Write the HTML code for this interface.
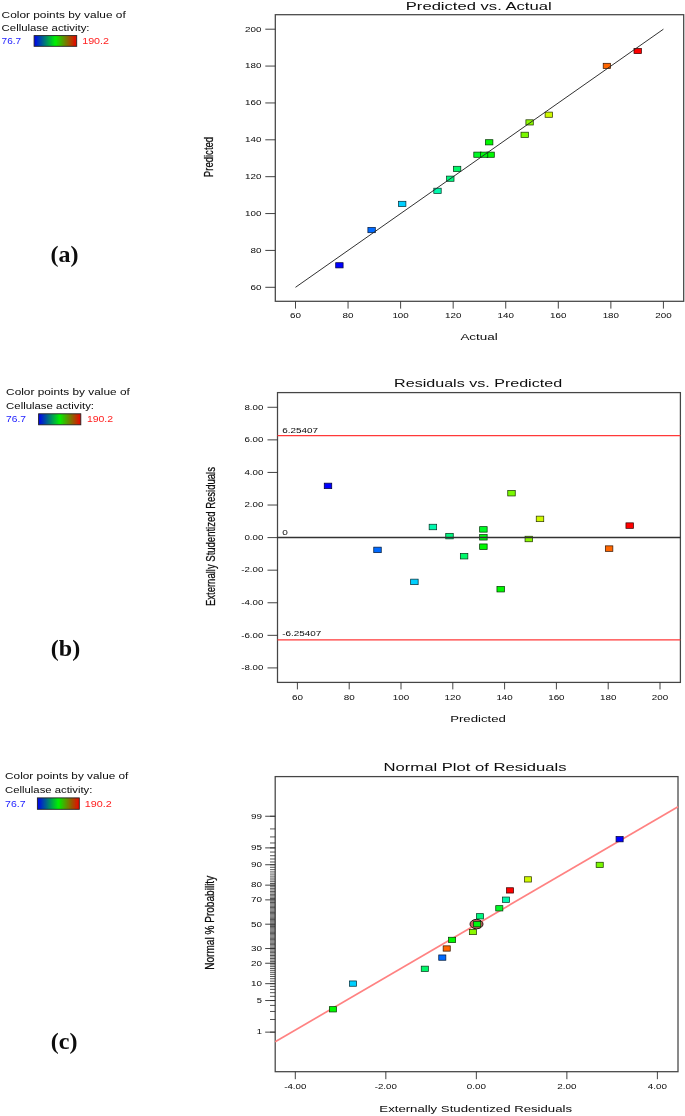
<!DOCTYPE html>
<html><head><meta charset="utf-8"><title>Diagnostic plots</title>
<style>
html,body{margin:0;padding:0;background:#fff;}
body{width:685px;height:1116px;overflow:hidden;font-family:"Liberation Sans",sans-serif;}
svg{display:block;}
</style></head><body>
<svg width="685" height="1116" viewBox="0 0 685 1116">
<rect x="0" y="0" width="685" height="1116" fill="#ffffff"/>
<g filter="url(#soft)">
<defs><filter id="soft" x="0" y="0" width="685" height="1116" filterUnits="userSpaceOnUse"><feGaussianBlur stdDeviation="0.35"/></filter><linearGradient id="lg" x1="0" x2="1" y1="0" y2="0"><stop offset="0" stop-color="#0000f0"/><stop offset="0.5" stop-color="#00f000"/><stop offset="1" stop-color="#f00000"/></linearGradient></defs>
<rect x="275.3" y="14.7" width="408.40000000000003" height="286.6" fill="#fff" stroke="#444" stroke-width="1.25"/>
<line x1="265.3" x2="275.3" y1="287.30" y2="287.30" stroke="#303030" stroke-width="0.9"/>
<text x="261.50" y="289.60" font-family="Liberation Sans" font-size="7.3" font-weight="normal" text-anchor="end" fill="#0a0a0a" textLength="11.00" lengthAdjust="spacingAndGlyphs">60</text>
<line x1="295.50" x2="295.50" y1="301.3" y2="308.6" stroke="#303030" stroke-width="0.9"/>
<text x="295.50" y="318.10" font-family="Liberation Sans" font-size="7.3" font-weight="normal" text-anchor="middle" fill="#0a0a0a" textLength="11.00" lengthAdjust="spacingAndGlyphs">60</text>
<line x1="265.3" x2="275.3" y1="250.43" y2="250.43" stroke="#303030" stroke-width="0.9"/>
<text x="261.50" y="252.73" font-family="Liberation Sans" font-size="7.3" font-weight="normal" text-anchor="end" fill="#0a0a0a" textLength="11.00" lengthAdjust="spacingAndGlyphs">80</text>
<line x1="348.06" x2="348.06" y1="301.3" y2="308.6" stroke="#303030" stroke-width="0.9"/>
<text x="348.06" y="318.10" font-family="Liberation Sans" font-size="7.3" font-weight="normal" text-anchor="middle" fill="#0a0a0a" textLength="11.00" lengthAdjust="spacingAndGlyphs">80</text>
<line x1="265.3" x2="275.3" y1="213.56" y2="213.56" stroke="#303030" stroke-width="0.9"/>
<text x="261.50" y="215.86" font-family="Liberation Sans" font-size="7.3" font-weight="normal" text-anchor="end" fill="#0a0a0a" textLength="16.40" lengthAdjust="spacingAndGlyphs">100</text>
<line x1="400.62" x2="400.62" y1="301.3" y2="308.6" stroke="#303030" stroke-width="0.9"/>
<text x="400.62" y="318.10" font-family="Liberation Sans" font-size="7.3" font-weight="normal" text-anchor="middle" fill="#0a0a0a" textLength="16.40" lengthAdjust="spacingAndGlyphs">100</text>
<line x1="265.3" x2="275.3" y1="176.68" y2="176.68" stroke="#303030" stroke-width="0.9"/>
<text x="261.50" y="178.98" font-family="Liberation Sans" font-size="7.3" font-weight="normal" text-anchor="end" fill="#0a0a0a" textLength="16.40" lengthAdjust="spacingAndGlyphs">120</text>
<line x1="453.18" x2="453.18" y1="301.3" y2="308.6" stroke="#303030" stroke-width="0.9"/>
<text x="453.18" y="318.10" font-family="Liberation Sans" font-size="7.3" font-weight="normal" text-anchor="middle" fill="#0a0a0a" textLength="16.40" lengthAdjust="spacingAndGlyphs">120</text>
<line x1="265.3" x2="275.3" y1="139.81" y2="139.81" stroke="#303030" stroke-width="0.9"/>
<text x="261.50" y="142.11" font-family="Liberation Sans" font-size="7.3" font-weight="normal" text-anchor="end" fill="#0a0a0a" textLength="16.40" lengthAdjust="spacingAndGlyphs">140</text>
<line x1="505.74" x2="505.74" y1="301.3" y2="308.6" stroke="#303030" stroke-width="0.9"/>
<text x="505.74" y="318.10" font-family="Liberation Sans" font-size="7.3" font-weight="normal" text-anchor="middle" fill="#0a0a0a" textLength="16.40" lengthAdjust="spacingAndGlyphs">140</text>
<line x1="265.3" x2="275.3" y1="102.94" y2="102.94" stroke="#303030" stroke-width="0.9"/>
<text x="261.50" y="105.24" font-family="Liberation Sans" font-size="7.3" font-weight="normal" text-anchor="end" fill="#0a0a0a" textLength="16.40" lengthAdjust="spacingAndGlyphs">160</text>
<line x1="558.30" x2="558.30" y1="301.3" y2="308.6" stroke="#303030" stroke-width="0.9"/>
<text x="558.30" y="318.10" font-family="Liberation Sans" font-size="7.3" font-weight="normal" text-anchor="middle" fill="#0a0a0a" textLength="16.40" lengthAdjust="spacingAndGlyphs">160</text>
<line x1="265.3" x2="275.3" y1="66.07" y2="66.07" stroke="#303030" stroke-width="0.9"/>
<text x="261.50" y="68.37" font-family="Liberation Sans" font-size="7.3" font-weight="normal" text-anchor="end" fill="#0a0a0a" textLength="16.40" lengthAdjust="spacingAndGlyphs">180</text>
<line x1="610.86" x2="610.86" y1="301.3" y2="308.6" stroke="#303030" stroke-width="0.9"/>
<text x="610.86" y="318.10" font-family="Liberation Sans" font-size="7.3" font-weight="normal" text-anchor="middle" fill="#0a0a0a" textLength="16.40" lengthAdjust="spacingAndGlyphs">180</text>
<line x1="265.3" x2="275.3" y1="29.20" y2="29.20" stroke="#303030" stroke-width="0.9"/>
<text x="261.50" y="31.50" font-family="Liberation Sans" font-size="7.3" font-weight="normal" text-anchor="end" fill="#0a0a0a" textLength="16.40" lengthAdjust="spacingAndGlyphs">200</text>
<line x1="663.42" x2="663.42" y1="301.3" y2="308.6" stroke="#303030" stroke-width="0.9"/>
<text x="663.42" y="318.10" font-family="Liberation Sans" font-size="7.3" font-weight="normal" text-anchor="middle" fill="#0a0a0a" textLength="16.40" lengthAdjust="spacingAndGlyphs">200</text>
<text x="478.70" y="9.70" font-family="Liberation Sans" font-size="11.5" font-weight="normal" text-anchor="middle" fill="#0a0a0a" textLength="145.80" lengthAdjust="spacingAndGlyphs">Predicted vs. Actual</text>
<text x="479.10" y="339.70" font-family="Liberation Sans" font-size="9.3" font-weight="normal" text-anchor="middle" fill="#0a0a0a" textLength="37.40" lengthAdjust="spacingAndGlyphs">Actual</text>
<g transform="translate(213.20,157.00) scale(1.45,1) rotate(-90)"><text x="0" y="0" font-family="Liberation Sans" font-size="9.4" text-anchor="middle" fill="#0a0a0a" stroke="#0a0a0a" stroke-width="0.18" textLength="40.30" lengthAdjust="spacingAndGlyphs">Predicted</text></g>
<rect x="335.70" y="262.70" width="7.4" height="5.2" fill="#0000ff" stroke="#000038" stroke-width="0.72"/>
<rect x="367.90" y="227.50" width="7.4" height="5.2" fill="#006bff" stroke="#001738" stroke-width="0.72"/>
<rect x="398.50" y="201.30" width="7.4" height="5.2" fill="#00d0ff" stroke="#002d38" stroke-width="0.72"/>
<rect x="433.80" y="188.20" width="7.4" height="5.2" fill="#00f8ae" stroke="#003626" stroke-width="0.72"/>
<rect x="446.60" y="176.10" width="7.4" height="5.2" fill="#00f881" stroke="#00361c" stroke-width="0.72"/>
<rect x="453.40" y="166.30" width="7.4" height="5.2" fill="#00f86b" stroke="#003617" stroke-width="0.72"/>
<rect x="473.80" y="152.10" width="7.4" height="5.2" fill="#00f827" stroke="#003608" stroke-width="0.72"/>
<rect x="486.90" y="152.10" width="7.4" height="5.2" fill="#04f800" stroke="#003600" stroke-width="0.72"/>
<rect x="480.40" y="152.10" width="7.4" height="5.2" fill="#00f811" stroke="#003603" stroke-width="0.72"/>
<rect x="485.50" y="139.70" width="7.4" height="5.2" fill="#00f800" stroke="#003600" stroke-width="0.72"/>
<rect x="521.00" y="132.20" width="7.4" height="5.2" fill="#79f800" stroke="#1a3600" stroke-width="0.72"/>
<rect x="525.90" y="119.80" width="7.4" height="5.2" fill="#8bf800" stroke="#1e3600" stroke-width="0.72"/>
<rect x="545.10" y="112.10" width="7.4" height="5.2" fill="#cff800" stroke="#2d3600" stroke-width="0.72"/>
<rect x="603.20" y="63.30" width="7.4" height="5.2" fill="#ff6600" stroke="#381600" stroke-width="0.72"/>
<rect x="634.00" y="48.40" width="7.4" height="5.2" fill="#ff0000" stroke="#380000" stroke-width="0.72"/>
<line x1="295.50" y1="287.30" x2="663.42" y2="29.20" stroke="#262626" stroke-width="0.95"/>
<text x="1.60" y="18.00" font-family="Liberation Sans" font-size="9.3" font-weight="normal" text-anchor="start" fill="#0a0a0a" textLength="124.10" lengthAdjust="spacingAndGlyphs">Color points by value of</text>
<text x="1.60" y="31.00" font-family="Liberation Sans" font-size="9.3" font-weight="normal" text-anchor="start" fill="#0a0a0a" textLength="87.90" lengthAdjust="spacingAndGlyphs">Cellulase activity:</text>
<text x="1.60" y="44.40" font-family="Liberation Sans" font-size="9.3" font-weight="normal" text-anchor="start" fill="#2222ff" textLength="19.50" lengthAdjust="spacingAndGlyphs">76.7</text>
<rect x="34.10" y="35.60" width="42.60" height="10.70" fill="url(#lg)" stroke="#222" stroke-width="0.9"/>
<text x="82.20" y="44.40" font-family="Liberation Sans" font-size="9.3" font-weight="normal" text-anchor="start" fill="#ff2020" textLength="26.80" lengthAdjust="spacingAndGlyphs">190.2</text>
<text x="50.40" y="261.80" font-family="Liberation Serif" font-size="24" font-weight="bold" text-anchor="start" fill="#0a0a0a">(a)</text>
<rect x="277.5" y="392.6" width="402.9" height="289.79999999999995" fill="#fff" stroke="#444" stroke-width="1.25"/>
<line x1="297.40" x2="297.40" y1="682.4" y2="689.4" stroke="#303030" stroke-width="0.9"/>
<text x="297.40" y="700.00" font-family="Liberation Sans" font-size="7.3" font-weight="normal" text-anchor="middle" fill="#0a0a0a" textLength="11.00" lengthAdjust="spacingAndGlyphs">60</text>
<line x1="349.20" x2="349.20" y1="682.4" y2="689.4" stroke="#303030" stroke-width="0.9"/>
<text x="349.20" y="700.00" font-family="Liberation Sans" font-size="7.3" font-weight="normal" text-anchor="middle" fill="#0a0a0a" textLength="11.00" lengthAdjust="spacingAndGlyphs">80</text>
<line x1="401.00" x2="401.00" y1="682.4" y2="689.4" stroke="#303030" stroke-width="0.9"/>
<text x="401.00" y="700.00" font-family="Liberation Sans" font-size="7.3" font-weight="normal" text-anchor="middle" fill="#0a0a0a" textLength="16.40" lengthAdjust="spacingAndGlyphs">100</text>
<line x1="452.80" x2="452.80" y1="682.4" y2="689.4" stroke="#303030" stroke-width="0.9"/>
<text x="452.80" y="700.00" font-family="Liberation Sans" font-size="7.3" font-weight="normal" text-anchor="middle" fill="#0a0a0a" textLength="16.40" lengthAdjust="spacingAndGlyphs">120</text>
<line x1="504.60" x2="504.60" y1="682.4" y2="689.4" stroke="#303030" stroke-width="0.9"/>
<text x="504.60" y="700.00" font-family="Liberation Sans" font-size="7.3" font-weight="normal" text-anchor="middle" fill="#0a0a0a" textLength="16.40" lengthAdjust="spacingAndGlyphs">140</text>
<line x1="556.40" x2="556.40" y1="682.4" y2="689.4" stroke="#303030" stroke-width="0.9"/>
<text x="556.40" y="700.00" font-family="Liberation Sans" font-size="7.3" font-weight="normal" text-anchor="middle" fill="#0a0a0a" textLength="16.40" lengthAdjust="spacingAndGlyphs">160</text>
<line x1="608.20" x2="608.20" y1="682.4" y2="689.4" stroke="#303030" stroke-width="0.9"/>
<text x="608.20" y="700.00" font-family="Liberation Sans" font-size="7.3" font-weight="normal" text-anchor="middle" fill="#0a0a0a" textLength="16.40" lengthAdjust="spacingAndGlyphs">180</text>
<line x1="660.00" x2="660.00" y1="682.4" y2="689.4" stroke="#303030" stroke-width="0.9"/>
<text x="660.00" y="700.00" font-family="Liberation Sans" font-size="7.3" font-weight="normal" text-anchor="middle" fill="#0a0a0a" textLength="16.40" lengthAdjust="spacingAndGlyphs">200</text>
<line x1="267.5" x2="277.5" y1="667.92" y2="667.92" stroke="#303030" stroke-width="0.9"/>
<text x="263.40" y="670.22" font-family="Liberation Sans" font-size="7.3" font-weight="normal" text-anchor="end" fill="#0a0a0a" textLength="22.20" lengthAdjust="spacingAndGlyphs">-8.00</text>
<line x1="267.5" x2="277.5" y1="635.34" y2="635.34" stroke="#303030" stroke-width="0.9"/>
<text x="263.40" y="637.64" font-family="Liberation Sans" font-size="7.3" font-weight="normal" text-anchor="end" fill="#0a0a0a" textLength="22.20" lengthAdjust="spacingAndGlyphs">-6.00</text>
<line x1="267.5" x2="277.5" y1="602.76" y2="602.76" stroke="#303030" stroke-width="0.9"/>
<text x="263.40" y="605.06" font-family="Liberation Sans" font-size="7.3" font-weight="normal" text-anchor="end" fill="#0a0a0a" textLength="22.20" lengthAdjust="spacingAndGlyphs">-4.00</text>
<line x1="267.5" x2="277.5" y1="570.18" y2="570.18" stroke="#303030" stroke-width="0.9"/>
<text x="263.40" y="572.48" font-family="Liberation Sans" font-size="7.3" font-weight="normal" text-anchor="end" fill="#0a0a0a" textLength="22.20" lengthAdjust="spacingAndGlyphs">-2.00</text>
<line x1="267.5" x2="277.5" y1="537.60" y2="537.60" stroke="#303030" stroke-width="0.9"/>
<text x="263.40" y="539.90" font-family="Liberation Sans" font-size="7.3" font-weight="normal" text-anchor="end" fill="#0a0a0a" textLength="19.00" lengthAdjust="spacingAndGlyphs">0.00</text>
<line x1="267.5" x2="277.5" y1="505.02" y2="505.02" stroke="#303030" stroke-width="0.9"/>
<text x="263.40" y="507.32" font-family="Liberation Sans" font-size="7.3" font-weight="normal" text-anchor="end" fill="#0a0a0a" textLength="19.00" lengthAdjust="spacingAndGlyphs">2.00</text>
<line x1="267.5" x2="277.5" y1="472.44" y2="472.44" stroke="#303030" stroke-width="0.9"/>
<text x="263.40" y="474.74" font-family="Liberation Sans" font-size="7.3" font-weight="normal" text-anchor="end" fill="#0a0a0a" textLength="19.00" lengthAdjust="spacingAndGlyphs">4.00</text>
<line x1="267.5" x2="277.5" y1="439.86" y2="439.86" stroke="#303030" stroke-width="0.9"/>
<text x="263.40" y="442.16" font-family="Liberation Sans" font-size="7.3" font-weight="normal" text-anchor="end" fill="#0a0a0a" textLength="19.00" lengthAdjust="spacingAndGlyphs">6.00</text>
<line x1="267.5" x2="277.5" y1="407.28" y2="407.28" stroke="#303030" stroke-width="0.9"/>
<text x="263.40" y="409.58" font-family="Liberation Sans" font-size="7.3" font-weight="normal" text-anchor="end" fill="#0a0a0a" textLength="19.00" lengthAdjust="spacingAndGlyphs">8.00</text>
<line x1="277.5" x2="680.4" y1="435.6" y2="435.6" stroke="#ff3838" stroke-width="1.3"/>
<line x1="277.5" x2="680.4" y1="639.9" y2="639.9" stroke="#ff3838" stroke-width="1.3"/>
<text x="282.20" y="432.70" font-family="Liberation Sans" font-size="7.3" font-weight="normal" text-anchor="start" fill="#0a0a0a" textLength="35.80" lengthAdjust="spacingAndGlyphs">6.25407</text>
<text x="282.20" y="636.00" font-family="Liberation Sans" font-size="7.3" font-weight="normal" text-anchor="start" fill="#0a0a0a" textLength="39.20" lengthAdjust="spacingAndGlyphs">-6.25407</text>
<text x="282.30" y="534.50" font-family="Liberation Sans" font-size="7.3" font-weight="normal" text-anchor="start" fill="#0a0a0a" textLength="5.60" lengthAdjust="spacingAndGlyphs">0</text>
<text x="478.10" y="387.00" font-family="Liberation Sans" font-size="11.5" font-weight="normal" text-anchor="middle" fill="#0a0a0a" textLength="168.00" lengthAdjust="spacingAndGlyphs">Residuals vs. Predicted</text>
<text x="478.00" y="721.80" font-family="Liberation Sans" font-size="9.3" font-weight="normal" text-anchor="middle" fill="#0a0a0a" textLength="55.70" lengthAdjust="spacingAndGlyphs">Predicted</text>
<g transform="translate(215.20,536.60) scale(1.45,1) rotate(-90)"><text x="0" y="0" font-family="Liberation Sans" font-size="9.4" text-anchor="middle" fill="#0a0a0a" stroke="#0a0a0a" stroke-width="0.18" textLength="139.00" lengthAdjust="spacingAndGlyphs">Externally Studentized Residuals</text></g>
<rect x="324.25" y="483.15" width="7.5" height="5.5" fill="#0000ff" stroke="#000038" stroke-width="0.72"/>
<rect x="373.75" y="547.15" width="7.5" height="5.5" fill="#006bff" stroke="#001738" stroke-width="0.72"/>
<rect x="410.65" y="579.15" width="7.5" height="5.5" fill="#00d0ff" stroke="#002d38" stroke-width="0.72"/>
<rect x="429.15" y="524.25" width="7.5" height="5.5" fill="#00f8ae" stroke="#003626" stroke-width="0.72"/>
<rect x="445.75" y="533.35" width="7.5" height="5.5" fill="#00f881" stroke="#00361c" stroke-width="0.72"/>
<rect x="460.35" y="553.45" width="7.5" height="5.5" fill="#00f86b" stroke="#003617" stroke-width="0.72"/>
<rect x="479.65" y="526.65" width="7.5" height="5.5" fill="#00f827" stroke="#003608" stroke-width="0.72"/>
<rect x="479.65" y="534.55" width="7.5" height="5.5" fill="#00f811" stroke="#003603" stroke-width="0.72"/>
<rect x="479.65" y="543.95" width="7.5" height="5.5" fill="#04f800" stroke="#003600" stroke-width="0.72"/>
<rect x="496.95" y="586.45" width="7.5" height="5.5" fill="#00f800" stroke="#003600" stroke-width="0.72"/>
<rect x="507.75" y="490.45" width="7.5" height="5.5" fill="#79f800" stroke="#1a3600" stroke-width="0.72"/>
<rect x="525.05" y="536.25" width="7.5" height="5.5" fill="#8bf800" stroke="#1e3600" stroke-width="0.72"/>
<rect x="536.25" y="516.15" width="7.5" height="5.5" fill="#cff800" stroke="#2d3600" stroke-width="0.72"/>
<rect x="605.35" y="545.85" width="7.5" height="5.5" fill="#ff6600" stroke="#381600" stroke-width="0.72"/>
<rect x="625.95" y="522.85" width="7.5" height="5.5" fill="#ff0000" stroke="#380000" stroke-width="0.72"/>
<line x1="277.5" x2="680.4" y1="537.6" y2="537.6" stroke="#333" stroke-width="1.5"/>
<text x="6.10" y="395.40" font-family="Liberation Sans" font-size="9.3" font-weight="normal" text-anchor="start" fill="#0a0a0a" textLength="123.70" lengthAdjust="spacingAndGlyphs">Color points by value of</text>
<text x="6.10" y="408.70" font-family="Liberation Sans" font-size="9.3" font-weight="normal" text-anchor="start" fill="#0a0a0a" textLength="87.90" lengthAdjust="spacingAndGlyphs">Cellulase activity:</text>
<text x="6.10" y="422.40" font-family="Liberation Sans" font-size="9.3" font-weight="normal" text-anchor="start" fill="#2222ff" textLength="20.00" lengthAdjust="spacingAndGlyphs">76.7</text>
<rect x="38.60" y="413.80" width="42.20" height="11.00" fill="url(#lg)" stroke="#222" stroke-width="0.9"/>
<text x="86.90" y="422.40" font-family="Liberation Sans" font-size="9.3" font-weight="normal" text-anchor="start" fill="#ff2020" textLength="26.20" lengthAdjust="spacingAndGlyphs">190.2</text>
<text x="50.80" y="655.60" font-family="Liberation Serif" font-size="24" font-weight="bold" text-anchor="start" fill="#0a0a0a">(b)</text>
<rect x="275.2" y="776.6" width="402.8" height="295.1" fill="#fff" stroke="#444" stroke-width="1.25"/>
<line x1="270.0" x2="275.2" y1="1032.14" y2="1032.14" stroke="#2a2a2a" stroke-width="0.8"/>
<line x1="270.0" x2="275.2" y1="1019.49" y2="1019.49" stroke="#2a2a2a" stroke-width="0.8"/>
<line x1="270.0" x2="275.2" y1="1011.47" y2="1011.47" stroke="#2a2a2a" stroke-width="0.8"/>
<line x1="270.0" x2="275.2" y1="1005.43" y2="1005.43" stroke="#2a2a2a" stroke-width="0.8"/>
<line x1="270.0" x2="275.2" y1="1000.52" y2="1000.52" stroke="#2a2a2a" stroke-width="0.8"/>
<line x1="270.0" x2="275.2" y1="996.34" y2="996.34" stroke="#2a2a2a" stroke-width="0.8"/>
<line x1="270.0" x2="275.2" y1="992.68" y2="992.68" stroke="#2a2a2a" stroke-width="0.8"/>
<line x1="270.0" x2="275.2" y1="989.40" y2="989.40" stroke="#2a2a2a" stroke-width="0.8"/>
<line x1="270.0" x2="275.2" y1="986.41" y2="986.41" stroke="#2a2a2a" stroke-width="0.8"/>
<line x1="270.0" x2="275.2" y1="983.66" y2="983.66" stroke="#2a2a2a" stroke-width="0.8"/>
<line x1="270.0" x2="275.2" y1="981.11" y2="981.11" stroke="#2a2a2a" stroke-width="0.8"/>
<line x1="270.0" x2="275.2" y1="978.72" y2="978.72" stroke="#2a2a2a" stroke-width="0.8"/>
<line x1="270.0" x2="275.2" y1="976.46" y2="976.46" stroke="#2a2a2a" stroke-width="0.8"/>
<line x1="270.0" x2="275.2" y1="974.33" y2="974.33" stroke="#2a2a2a" stroke-width="0.8"/>
<line x1="270.0" x2="275.2" y1="972.29" y2="972.29" stroke="#2a2a2a" stroke-width="0.8"/>
<line x1="270.0" x2="275.2" y1="970.34" y2="970.34" stroke="#2a2a2a" stroke-width="0.8"/>
<line x1="270.0" x2="275.2" y1="968.47" y2="968.47" stroke="#2a2a2a" stroke-width="0.8"/>
<line x1="270.0" x2="275.2" y1="966.67" y2="966.67" stroke="#2a2a2a" stroke-width="0.8"/>
<line x1="270.0" x2="275.2" y1="964.93" y2="964.93" stroke="#2a2a2a" stroke-width="0.8"/>
<line x1="270.0" x2="275.2" y1="963.25" y2="963.25" stroke="#2a2a2a" stroke-width="0.8"/>
<line x1="270.0" x2="275.2" y1="961.62" y2="961.62" stroke="#2a2a2a" stroke-width="0.8"/>
<line x1="270.0" x2="275.2" y1="960.03" y2="960.03" stroke="#2a2a2a" stroke-width="0.8"/>
<line x1="270.0" x2="275.2" y1="958.48" y2="958.48" stroke="#2a2a2a" stroke-width="0.8"/>
<line x1="270.0" x2="275.2" y1="956.97" y2="956.97" stroke="#2a2a2a" stroke-width="0.8"/>
<line x1="270.0" x2="275.2" y1="955.50" y2="955.50" stroke="#2a2a2a" stroke-width="0.8"/>
<line x1="270.0" x2="275.2" y1="954.05" y2="954.05" stroke="#2a2a2a" stroke-width="0.8"/>
<line x1="270.0" x2="275.2" y1="952.63" y2="952.63" stroke="#2a2a2a" stroke-width="0.8"/>
<line x1="270.0" x2="275.2" y1="951.24" y2="951.24" stroke="#2a2a2a" stroke-width="0.8"/>
<line x1="270.0" x2="275.2" y1="949.88" y2="949.88" stroke="#2a2a2a" stroke-width="0.8"/>
<line x1="270.0" x2="275.2" y1="948.53" y2="948.53" stroke="#2a2a2a" stroke-width="0.8"/>
<line x1="270.0" x2="275.2" y1="947.21" y2="947.21" stroke="#2a2a2a" stroke-width="0.8"/>
<line x1="270.0" x2="275.2" y1="945.90" y2="945.90" stroke="#2a2a2a" stroke-width="0.8"/>
<line x1="270.0" x2="275.2" y1="944.61" y2="944.61" stroke="#2a2a2a" stroke-width="0.8"/>
<line x1="270.0" x2="275.2" y1="943.34" y2="943.34" stroke="#2a2a2a" stroke-width="0.8"/>
<line x1="270.0" x2="275.2" y1="942.08" y2="942.08" stroke="#2a2a2a" stroke-width="0.8"/>
<line x1="270.0" x2="275.2" y1="940.83" y2="940.83" stroke="#2a2a2a" stroke-width="0.8"/>
<line x1="270.0" x2="275.2" y1="939.60" y2="939.60" stroke="#2a2a2a" stroke-width="0.8"/>
<line x1="270.0" x2="275.2" y1="938.37" y2="938.37" stroke="#2a2a2a" stroke-width="0.8"/>
<line x1="270.0" x2="275.2" y1="937.16" y2="937.16" stroke="#2a2a2a" stroke-width="0.8"/>
<line x1="270.0" x2="275.2" y1="935.96" y2="935.96" stroke="#2a2a2a" stroke-width="0.8"/>
<line x1="270.0" x2="275.2" y1="934.76" y2="934.76" stroke="#2a2a2a" stroke-width="0.8"/>
<line x1="270.0" x2="275.2" y1="933.57" y2="933.57" stroke="#2a2a2a" stroke-width="0.8"/>
<line x1="270.0" x2="275.2" y1="932.38" y2="932.38" stroke="#2a2a2a" stroke-width="0.8"/>
<line x1="270.0" x2="275.2" y1="931.20" y2="931.20" stroke="#2a2a2a" stroke-width="0.8"/>
<line x1="270.0" x2="275.2" y1="930.03" y2="930.03" stroke="#2a2a2a" stroke-width="0.8"/>
<line x1="270.0" x2="275.2" y1="928.86" y2="928.86" stroke="#2a2a2a" stroke-width="0.8"/>
<line x1="270.0" x2="275.2" y1="927.69" y2="927.69" stroke="#2a2a2a" stroke-width="0.8"/>
<line x1="270.0" x2="275.2" y1="926.53" y2="926.53" stroke="#2a2a2a" stroke-width="0.8"/>
<line x1="270.0" x2="275.2" y1="925.36" y2="925.36" stroke="#2a2a2a" stroke-width="0.8"/>
<line x1="270.0" x2="275.2" y1="924.20" y2="924.20" stroke="#2a2a2a" stroke-width="0.8"/>
<line x1="270.0" x2="275.2" y1="923.04" y2="923.04" stroke="#2a2a2a" stroke-width="0.8"/>
<line x1="270.0" x2="275.2" y1="921.87" y2="921.87" stroke="#2a2a2a" stroke-width="0.8"/>
<line x1="270.0" x2="275.2" y1="920.71" y2="920.71" stroke="#2a2a2a" stroke-width="0.8"/>
<line x1="270.0" x2="275.2" y1="919.54" y2="919.54" stroke="#2a2a2a" stroke-width="0.8"/>
<line x1="270.0" x2="275.2" y1="918.37" y2="918.37" stroke="#2a2a2a" stroke-width="0.8"/>
<line x1="270.0" x2="275.2" y1="917.20" y2="917.20" stroke="#2a2a2a" stroke-width="0.8"/>
<line x1="270.0" x2="275.2" y1="916.02" y2="916.02" stroke="#2a2a2a" stroke-width="0.8"/>
<line x1="270.0" x2="275.2" y1="914.83" y2="914.83" stroke="#2a2a2a" stroke-width="0.8"/>
<line x1="270.0" x2="275.2" y1="913.64" y2="913.64" stroke="#2a2a2a" stroke-width="0.8"/>
<line x1="270.0" x2="275.2" y1="912.44" y2="912.44" stroke="#2a2a2a" stroke-width="0.8"/>
<line x1="270.0" x2="275.2" y1="911.24" y2="911.24" stroke="#2a2a2a" stroke-width="0.8"/>
<line x1="270.0" x2="275.2" y1="910.03" y2="910.03" stroke="#2a2a2a" stroke-width="0.8"/>
<line x1="270.0" x2="275.2" y1="908.80" y2="908.80" stroke="#2a2a2a" stroke-width="0.8"/>
<line x1="270.0" x2="275.2" y1="907.57" y2="907.57" stroke="#2a2a2a" stroke-width="0.8"/>
<line x1="270.0" x2="275.2" y1="906.32" y2="906.32" stroke="#2a2a2a" stroke-width="0.8"/>
<line x1="270.0" x2="275.2" y1="905.06" y2="905.06" stroke="#2a2a2a" stroke-width="0.8"/>
<line x1="270.0" x2="275.2" y1="903.79" y2="903.79" stroke="#2a2a2a" stroke-width="0.8"/>
<line x1="270.0" x2="275.2" y1="902.50" y2="902.50" stroke="#2a2a2a" stroke-width="0.8"/>
<line x1="270.0" x2="275.2" y1="901.19" y2="901.19" stroke="#2a2a2a" stroke-width="0.8"/>
<line x1="270.0" x2="275.2" y1="899.87" y2="899.87" stroke="#2a2a2a" stroke-width="0.8"/>
<line x1="270.0" x2="275.2" y1="898.52" y2="898.52" stroke="#2a2a2a" stroke-width="0.8"/>
<line x1="270.0" x2="275.2" y1="897.16" y2="897.16" stroke="#2a2a2a" stroke-width="0.8"/>
<line x1="270.0" x2="275.2" y1="895.77" y2="895.77" stroke="#2a2a2a" stroke-width="0.8"/>
<line x1="270.0" x2="275.2" y1="894.35" y2="894.35" stroke="#2a2a2a" stroke-width="0.8"/>
<line x1="270.0" x2="275.2" y1="892.90" y2="892.90" stroke="#2a2a2a" stroke-width="0.8"/>
<line x1="270.0" x2="275.2" y1="891.43" y2="891.43" stroke="#2a2a2a" stroke-width="0.8"/>
<line x1="270.0" x2="275.2" y1="889.92" y2="889.92" stroke="#2a2a2a" stroke-width="0.8"/>
<line x1="270.0" x2="275.2" y1="888.37" y2="888.37" stroke="#2a2a2a" stroke-width="0.8"/>
<line x1="270.0" x2="275.2" y1="886.78" y2="886.78" stroke="#2a2a2a" stroke-width="0.8"/>
<line x1="270.0" x2="275.2" y1="885.15" y2="885.15" stroke="#2a2a2a" stroke-width="0.8"/>
<line x1="270.0" x2="275.2" y1="883.47" y2="883.47" stroke="#2a2a2a" stroke-width="0.8"/>
<line x1="270.0" x2="275.2" y1="881.73" y2="881.73" stroke="#2a2a2a" stroke-width="0.8"/>
<line x1="270.0" x2="275.2" y1="879.93" y2="879.93" stroke="#2a2a2a" stroke-width="0.8"/>
<line x1="270.0" x2="275.2" y1="878.06" y2="878.06" stroke="#2a2a2a" stroke-width="0.8"/>
<line x1="270.0" x2="275.2" y1="876.11" y2="876.11" stroke="#2a2a2a" stroke-width="0.8"/>
<line x1="270.0" x2="275.2" y1="874.07" y2="874.07" stroke="#2a2a2a" stroke-width="0.8"/>
<line x1="270.0" x2="275.2" y1="871.94" y2="871.94" stroke="#2a2a2a" stroke-width="0.8"/>
<line x1="270.0" x2="275.2" y1="869.68" y2="869.68" stroke="#2a2a2a" stroke-width="0.8"/>
<line x1="270.0" x2="275.2" y1="867.29" y2="867.29" stroke="#2a2a2a" stroke-width="0.8"/>
<line x1="270.0" x2="275.2" y1="864.74" y2="864.74" stroke="#2a2a2a" stroke-width="0.8"/>
<line x1="270.0" x2="275.2" y1="861.99" y2="861.99" stroke="#2a2a2a" stroke-width="0.8"/>
<line x1="270.0" x2="275.2" y1="859.00" y2="859.00" stroke="#2a2a2a" stroke-width="0.8"/>
<line x1="270.0" x2="275.2" y1="855.72" y2="855.72" stroke="#2a2a2a" stroke-width="0.8"/>
<line x1="270.0" x2="275.2" y1="852.06" y2="852.06" stroke="#2a2a2a" stroke-width="0.8"/>
<line x1="270.0" x2="275.2" y1="847.88" y2="847.88" stroke="#2a2a2a" stroke-width="0.8"/>
<line x1="270.0" x2="275.2" y1="842.97" y2="842.97" stroke="#2a2a2a" stroke-width="0.8"/>
<line x1="270.0" x2="275.2" y1="836.93" y2="836.93" stroke="#2a2a2a" stroke-width="0.8"/>
<line x1="270.0" x2="275.2" y1="828.91" y2="828.91" stroke="#2a2a2a" stroke-width="0.8"/>
<line x1="270.0" x2="275.2" y1="816.26" y2="816.26" stroke="#2a2a2a" stroke-width="0.8"/>
<line x1="265.2" x2="275.2" y1="1032.14" y2="1032.14" stroke="#303030" stroke-width="0.9"/>
<text x="261.90" y="1034.44" font-family="Liberation Sans" font-size="7.3" font-weight="normal" text-anchor="end" fill="#0a0a0a" textLength="5.20" lengthAdjust="spacingAndGlyphs">1</text>
<line x1="265.2" x2="275.2" y1="1000.52" y2="1000.52" stroke="#303030" stroke-width="0.9"/>
<text x="261.90" y="1002.82" font-family="Liberation Sans" font-size="7.3" font-weight="normal" text-anchor="end" fill="#0a0a0a" textLength="5.20" lengthAdjust="spacingAndGlyphs">5</text>
<line x1="265.2" x2="275.2" y1="983.66" y2="983.66" stroke="#303030" stroke-width="0.9"/>
<text x="261.90" y="985.96" font-family="Liberation Sans" font-size="7.3" font-weight="normal" text-anchor="end" fill="#0a0a0a" textLength="11.00" lengthAdjust="spacingAndGlyphs">10</text>
<line x1="265.2" x2="275.2" y1="963.25" y2="963.25" stroke="#303030" stroke-width="0.9"/>
<text x="261.90" y="965.55" font-family="Liberation Sans" font-size="7.3" font-weight="normal" text-anchor="end" fill="#0a0a0a" textLength="11.00" lengthAdjust="spacingAndGlyphs">20</text>
<line x1="265.2" x2="275.2" y1="948.53" y2="948.53" stroke="#303030" stroke-width="0.9"/>
<text x="261.90" y="950.83" font-family="Liberation Sans" font-size="7.3" font-weight="normal" text-anchor="end" fill="#0a0a0a" textLength="11.00" lengthAdjust="spacingAndGlyphs">30</text>
<line x1="265.2" x2="275.2" y1="924.20" y2="924.20" stroke="#303030" stroke-width="0.9"/>
<text x="261.90" y="926.50" font-family="Liberation Sans" font-size="7.3" font-weight="normal" text-anchor="end" fill="#0a0a0a" textLength="11.00" lengthAdjust="spacingAndGlyphs">50</text>
<line x1="265.2" x2="275.2" y1="899.87" y2="899.87" stroke="#303030" stroke-width="0.9"/>
<text x="261.90" y="902.17" font-family="Liberation Sans" font-size="7.3" font-weight="normal" text-anchor="end" fill="#0a0a0a" textLength="11.00" lengthAdjust="spacingAndGlyphs">70</text>
<line x1="265.2" x2="275.2" y1="885.15" y2="885.15" stroke="#303030" stroke-width="0.9"/>
<text x="261.90" y="887.45" font-family="Liberation Sans" font-size="7.3" font-weight="normal" text-anchor="end" fill="#0a0a0a" textLength="11.00" lengthAdjust="spacingAndGlyphs">80</text>
<line x1="265.2" x2="275.2" y1="864.74" y2="864.74" stroke="#303030" stroke-width="0.9"/>
<text x="261.90" y="867.04" font-family="Liberation Sans" font-size="7.3" font-weight="normal" text-anchor="end" fill="#0a0a0a" textLength="11.00" lengthAdjust="spacingAndGlyphs">90</text>
<line x1="265.2" x2="275.2" y1="847.88" y2="847.88" stroke="#303030" stroke-width="0.9"/>
<text x="261.90" y="850.18" font-family="Liberation Sans" font-size="7.3" font-weight="normal" text-anchor="end" fill="#0a0a0a" textLength="11.00" lengthAdjust="spacingAndGlyphs">95</text>
<line x1="265.2" x2="275.2" y1="816.26" y2="816.26" stroke="#303030" stroke-width="0.9"/>
<text x="261.90" y="818.56" font-family="Liberation Sans" font-size="7.3" font-weight="normal" text-anchor="end" fill="#0a0a0a" textLength="11.00" lengthAdjust="spacingAndGlyphs">99</text>
<line x1="295.31" x2="295.31" y1="1071.7" y2="1079.2" stroke="#303030" stroke-width="0.9"/>
<text x="295.31" y="1089.10" font-family="Liberation Sans" font-size="7.3" font-weight="normal" text-anchor="middle" fill="#0a0a0a" textLength="22.20" lengthAdjust="spacingAndGlyphs">-4.00</text>
<line x1="385.83" x2="385.83" y1="1071.7" y2="1079.2" stroke="#303030" stroke-width="0.9"/>
<text x="385.83" y="1089.10" font-family="Liberation Sans" font-size="7.3" font-weight="normal" text-anchor="middle" fill="#0a0a0a" textLength="22.20" lengthAdjust="spacingAndGlyphs">-2.00</text>
<line x1="476.35" x2="476.35" y1="1071.7" y2="1079.2" stroke="#303030" stroke-width="0.9"/>
<text x="476.35" y="1089.10" font-family="Liberation Sans" font-size="7.3" font-weight="normal" text-anchor="middle" fill="#0a0a0a" textLength="19.20" lengthAdjust="spacingAndGlyphs">0.00</text>
<line x1="566.87" x2="566.87" y1="1071.7" y2="1079.2" stroke="#303030" stroke-width="0.9"/>
<text x="566.87" y="1089.10" font-family="Liberation Sans" font-size="7.3" font-weight="normal" text-anchor="middle" fill="#0a0a0a" textLength="19.20" lengthAdjust="spacingAndGlyphs">2.00</text>
<line x1="657.39" x2="657.39" y1="1071.7" y2="1079.2" stroke="#303030" stroke-width="0.9"/>
<text x="657.39" y="1089.10" font-family="Liberation Sans" font-size="7.3" font-weight="normal" text-anchor="middle" fill="#0a0a0a" textLength="19.20" lengthAdjust="spacingAndGlyphs">4.00</text>
<line x1="275.2" y1="1041.8" x2="678.0" y2="806.7" stroke="#ff8282" stroke-width="1.7"/>
<text x="475.00" y="770.60" font-family="Liberation Sans" font-size="11.5" font-weight="normal" text-anchor="middle" fill="#0a0a0a" textLength="183.00" lengthAdjust="spacingAndGlyphs">Normal Plot of Residuals</text>
<text x="475.70" y="1111.50" font-family="Liberation Sans" font-size="9.3" font-weight="normal" text-anchor="middle" fill="#0a0a0a" textLength="192.70" lengthAdjust="spacingAndGlyphs">Externally Studentized Residuals</text>
<g transform="translate(213.60,922.80) scale(1.45,1) rotate(-90)"><text x="0" y="0" font-family="Liberation Sans" font-size="9.4" text-anchor="middle" fill="#0a0a0a" stroke="#0a0a0a" stroke-width="0.18" textLength="94.00" lengthAdjust="spacingAndGlyphs">Normal % Probability</text></g>
<ellipse cx="476.5" cy="924.1" rx="6.5" ry="4.7" fill="#c46262" stroke="#2a1010" stroke-width="1.0"/>
<rect x="329.35" y="1006.65" width="7.1" height="5.3" fill="#00f800" stroke="#003600" stroke-width="0.72"/>
<rect x="349.45" y="980.95" width="7.1" height="5.3" fill="#00d0ff" stroke="#002d38" stroke-width="0.72"/>
<rect x="421.25" y="966.15" width="7.1" height="5.3" fill="#00f86b" stroke="#003617" stroke-width="0.72"/>
<rect x="438.75" y="954.95" width="7.1" height="5.3" fill="#006bff" stroke="#001738" stroke-width="0.72"/>
<rect x="443.15" y="945.85" width="7.1" height="5.3" fill="#ff6600" stroke="#381600" stroke-width="0.72"/>
<rect x="448.55" y="937.25" width="7.1" height="5.3" fill="#04f800" stroke="#003600" stroke-width="0.72"/>
<rect x="469.35" y="929.35" width="7.1" height="5.3" fill="#8bf800" stroke="#1e3600" stroke-width="0.72"/>
<rect x="473.65" y="921.55" width="7.1" height="5.3" fill="#00f811" stroke="#003603" stroke-width="0.72"/>
<rect x="476.45" y="913.65" width="7.1" height="5.3" fill="#00f881" stroke="#00361c" stroke-width="0.72"/>
<rect x="495.75" y="905.65" width="7.1" height="5.3" fill="#00f827" stroke="#003608" stroke-width="0.72"/>
<rect x="502.45" y="897.05" width="7.1" height="5.3" fill="#00f8ae" stroke="#003626" stroke-width="0.72"/>
<rect x="506.45" y="887.75" width="7.1" height="5.3" fill="#ff0000" stroke="#380000" stroke-width="0.72"/>
<rect x="524.45" y="876.75" width="7.1" height="5.3" fill="#cff800" stroke="#2d3600" stroke-width="0.72"/>
<rect x="596.15" y="862.25" width="7.1" height="5.3" fill="#79f800" stroke="#1a3600" stroke-width="0.72"/>
<rect x="616.05" y="836.55" width="7.1" height="5.3" fill="#0000ff" stroke="#000038" stroke-width="0.72"/>
<text x="5.10" y="779.10" font-family="Liberation Sans" font-size="9.3" font-weight="normal" text-anchor="start" fill="#0a0a0a" textLength="123.30" lengthAdjust="spacingAndGlyphs">Color points by value of</text>
<text x="5.10" y="793.00" font-family="Liberation Sans" font-size="9.3" font-weight="normal" text-anchor="start" fill="#0a0a0a" textLength="87.30" lengthAdjust="spacingAndGlyphs">Cellulase activity:</text>
<text x="5.10" y="806.50" font-family="Liberation Sans" font-size="9.3" font-weight="normal" text-anchor="start" fill="#2222ff" textLength="20.50" lengthAdjust="spacingAndGlyphs">76.7</text>
<rect x="37.40" y="797.90" width="41.90" height="11.40" fill="url(#lg)" stroke="#222" stroke-width="0.9"/>
<text x="84.80" y="806.50" font-family="Liberation Sans" font-size="9.3" font-weight="normal" text-anchor="start" fill="#ff2020" textLength="27.00" lengthAdjust="spacingAndGlyphs">190.2</text>
<text x="50.80" y="1048.80" font-family="Liberation Serif" font-size="24" font-weight="bold" text-anchor="start" fill="#0a0a0a">(c)</text>
</g>
</svg>
</body></html>
